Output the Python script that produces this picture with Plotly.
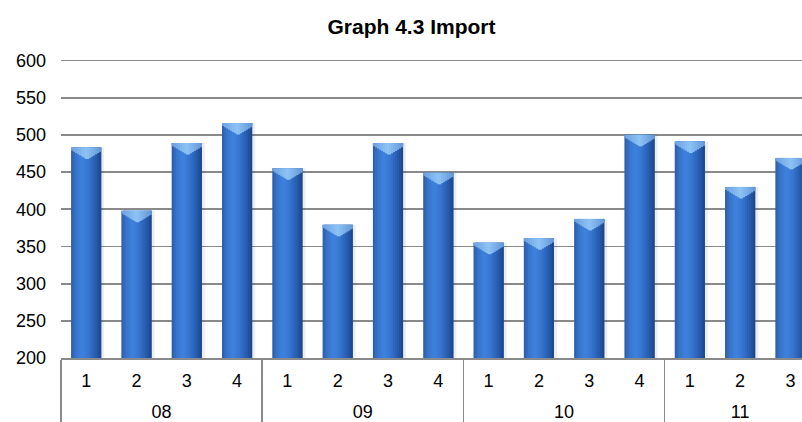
import plotly.graph_objects as go

# ---- data ----
years = ["08", "08", "08", "08", "09", "09", "09", "09",
         "10", "10", "10", "10", "11", "11", "11"]
quarters = ["1", "2", "3", "4", "1", "2", "3", "4",
            "1", "2", "3", "4", "1", "2", "3"]
imports = [483, 398, 489, 516, 455, 379, 489, 449,
           355, 361, 387, 500, 491, 430, 469]
title_text = "Graph 4.3 Import"
y_ticks = [200, 250, 300, 350, 400, 450, 500, 550, 600]

# ---- style ----
FONT = "Liberation Sans"
FIG_W, FIG_H = 802, 422
Y_MIN, Y_MAX = 200, 602
GRID_TOP, PLOT_BOTTOM = 60, 358   # pixel rows of 600 and 200
PX_PER_UNIT = (PLOT_BOTTOM - GRID_TOP) / 400.0
TOP_MARGIN = GRID_TOP - (Y_MAX - 600) * PX_PER_UNIT
BAR_W = 0.6
N_STRIPES = 15

# horizontal colour profile of the cylinder body (left -> right)
profile = [(0.0, (45, 92, 165)), (0.15, (55, 115, 200)), (0.35, (62, 130, 222)),
           (0.55, (56, 120, 210)), (0.8, (40, 94, 178)), (1.0, (28, 68, 138))]
cap_profile = [(0.0, (110, 160, 225)), (0.5, (140, 195, 245)), (1.0, (100, 150, 215))]


def interp(prof, t):
    for (t0, c0), (t1, c1) in zip(prof[:-1], prof[1:]):
        if t0 <= t <= t1:
            f = (t - t0) / (t1 - t0) if t1 > t0 else 0
            return tuple(round(a + (b - a) * f) for a, b in zip(c0, c1))
    return prof[-1][1]


pad = "<span style='font-size:31px'>&nbsp;</span>"
quarter_labels = [pad + q + pad for q in quarters]
x = [years, quarter_labels]
fig = go.Figure()
sw = BAR_W / N_STRIPES

# faint shadow to the right
fig.add_trace(go.Bar(x=x, y=[v - Y_MIN for v in imports], base=Y_MIN,
                     width=sw * 1.5, offset=BAR_W / 2,
                     marker=dict(color="rgba(0,0,0,0.07)", line=dict(width=0)),
                     hoverinfo="skip", showlegend=False))

for i in range(N_STRIPES):
    t = (i + 0.5) / N_STRIPES
    c = interp(profile, t)
    w = sw * (2.0 if i < N_STRIPES - 1 else 1.0)
    fig.add_trace(go.Bar(x=x, y=[v - Y_MIN for v in imports], base=Y_MIN,
                         width=w, offset=-BAR_W / 2 + i * sw,
                         marker=dict(color="rgb(%d,%d,%d)" % c, line=dict(width=0)),
                         hoverinfo="skip", showlegend=False))

for i in range(N_STRIPES):
    t = (i + 0.5) / N_STRIPES
    u = abs(2 * t - 1)
    cap_px = 2.5 + 9.0 * (1 - u)
    h = cap_px / PX_PER_UNIT
    c = interp(cap_profile, t)
    w = sw * (2.0 if i < N_STRIPES - 1 else 1.0)
    fig.add_trace(go.Bar(x=x, y=[h] * len(imports), base=[v - h for v in imports],
                         width=w, offset=-BAR_W / 2 + i * sw,
                         marker=dict(color="rgb(%d,%d,%d)" % c, line=dict(width=0)),
                         hoverinfo="skip", showlegend=False))

fig.update_layout(
    width=FIG_W, height=FIG_H,
    margin=dict(l=61, r=0, t=TOP_MARGIN, b=FIG_H - PLOT_BOTTOM, pad=0),
    paper_bgcolor="white", plot_bgcolor="white",
    barmode="overlay",
    font=dict(family=FONT, size=18, color="black"),
    title=dict(text="<b>%s</b>" % title_text, x=411.5 / FIG_W, xref="container",
               xanchor="center", y=1 - 27 / FIG_H, yref="container", yanchor="middle",
               font=dict(family=FONT, size=21, color="black")),
    showlegend=False,
    hovermode=False,
    xaxis=dict(type="multicategory", range=[-0.5, 14.23],
               showline=True, linecolor="#8a8a8a", linewidth=1.5,
               showgrid=False, ticks="", ticklabelstandoff=6,
               showdividers=True, dividercolor="#8a8a8a", dividerwidth=1.5,
               tickfont=dict(size=18, family=FONT)),
    yaxis=dict(range=[Y_MIN, Y_MAX], tickvals=y_ticks,
               showgrid=True, gridcolor="#8a8a8a", gridwidth=1.8,
               zeroline=False, showline=False, ticks="",
               ticklabelstandoff=14,
               tickfont=dict(size=18, family=FONT)),
)

fig.write_html(
    "out.html",
    config={"displayModeBar": False, "staticPlot": True},
    post_script="document.documentElement.style.overflow='hidden';"
                "document.body.style.margin='0';document.body.style.overflow='hidden';",
)
